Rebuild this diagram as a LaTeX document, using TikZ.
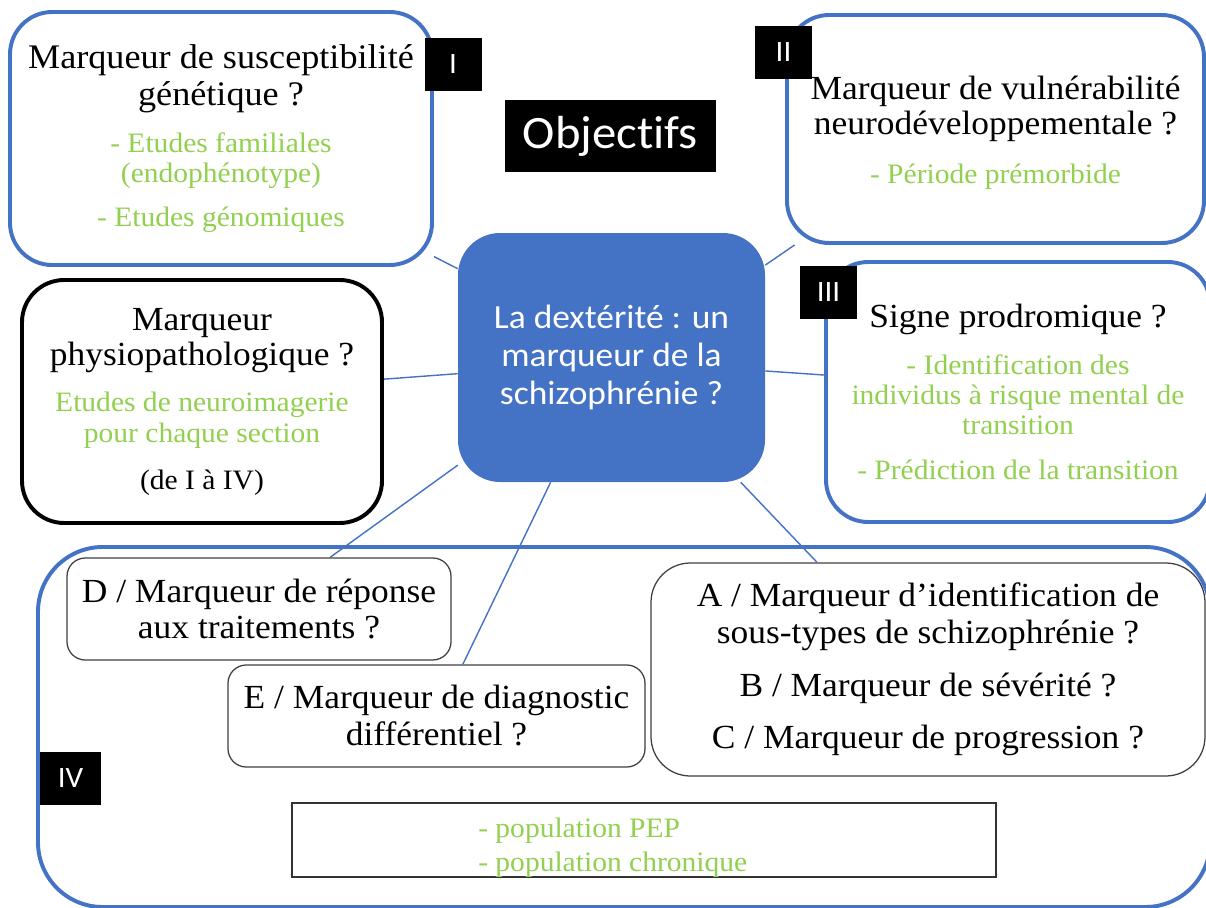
\documentclass[tikz,border=0pt]{standalone}
\usepackage{fontspec}
\setmainfont[FakeStretch=1.05]{Liberation Serif}
\newfontfamily\calibfont[FakeStretch=1.05, Ligatures=NoCommon]{Carlito}
\definecolor{boxblue}{HTML}{4472C4}
\definecolor{notegreen}{HTML}{92D050}
\def\px{0.025cm}
\def\blk{\fontsize{24}{25}\selectfont}
\def\grn{\color{notegreen}\fontsize{20}{22}\selectfont}

\tikzset{
	bluebox/.style={draw=boxblue, line width=2.8pt, rounded corners=30pt, fill=white, align=center, inner sep=0pt, font=\blk},
	blackbox/.style={draw=black, line width=2.8pt, rounded corners=30pt, fill=white, align=center, inner sep=0pt, font=\blk},
	answerbox/.style={draw=black!75, line width=0.9pt, rounded corners=13pt, fill=white, align=center, inner sep=0pt, font=\fontsize{24}{26.3}\selectfont},
	mainbox/.style={fill=boxblue, rounded corners=30pt, text=white, align=center, inner sep=0pt, font=\calibfont\fontsize{24}{26.7}\selectfont},
	numbadge/.style={fill=black, text=white, inner sep=0pt, minimum width=57*\px, minimum height=53*\px, font=\calibfont\fontsize{21}{21}\selectfont},
	link/.style={draw=boxblue, line width=1pt}
}

\begin{document}
\begin{tikzpicture}[x=0.025cm, y=-0.025cm]
			%%%%% START %%%%%
			\useasboundingbox (0,0) rectangle (1206,908);
			
			% frame of section IV
			\node[bluebox, fill=none, rounded corners=46pt, minimum width=1172*\px, minimum height=360*\px] (sec4) at (624,727) {};
			
			% central question
			\node[mainbox, minimum width=307*\px, minimum height=249*\px] (ctr) at (611.5,357.5) {La dextérité : un\\marqueur de la\\schizophrénie ?};
			
			\node[fill=black, text=white, inner sep=0pt, minimum width=211*\px, minimum height=72*\px, font=\calibfont\fontsize{33}{36}\selectfont] (obj) at (610.5,136) {Objectifs};
			
			\node[bluebox, font=\fontsize{24.5}{26.3}\selectfont, minimum width=422*\px, minimum height=253*\px] (gen) at (221,138.5) {Marqueur de susceptibilité\\génétique ?\\[7pt]\grn - Etudes familiales\\[-5pt]\grn (endophénotype)\\[5pt]\grn - Etudes génomiques};
			
			\node[bluebox, minimum width=417*\px, minimum height=228*\px] (neuro) at (995.5,129) {Marqueur de vulnérabilité\\neurodéveloppementale ?\\[10pt]\grn - Période prémorbide\\[-26pt]};
			
			\node[blackbox, minimum width=360*\px, minimum height=243*\px] (physio) at (202,401.5) {Marqueur\\physiopathologique ?\\[8pt]\grn Etudes de neuroimagerie\\[-3pt]\grn pour chaque section\\[8pt]\fontsize{20}{22}\selectfont (de I à IV)};
			
			\node[bluebox, minimum width=384*\px, minimum height=260*\px] (pro) at (1018,392) {Signe prodromique ?\\[8pt]\grn - Identification des\\[-3.5pt]\grn individus à risque mental de\\[-3.5pt]\grn transition\\[7pt]\grn - Prédiction de la transition};
			
			% section IV
			\node[answerbox, minimum width=384*\px, minimum height=102*\px] (ansD) at (259,609) {D / Marqueur de réponse\\aux traitements ?};
			\node[answerbox, minimum width=417*\px, minimum height=102*\px] (ansE) at (436.5,716) {E / Marqueur de diagnostic\\différentiel ?};
			\node[answerbox, rounded corners=28pt, minimum width=554*\px, minimum height=213*\px] (ansABC) at (928,669.5) {A / Marqueur d’identification de\\sous-types de schizophrénie ?\\[11pt]B / Marqueur de sévérité ?\\[11pt]C / Marqueur de progression ?};
			
			\node[draw=black!80, line width=1pt, fill=white, minimum width=704*\px, minimum height=74*\px] (pop) at (644,840) {};
			\node[anchor=west, align=left, inner sep=0pt, font=\grn] (popt) at (478,848) {- population PEP\\[2pt]- population chronique};
			
			\draw[link] (ctr.150) -- (gen.-29);
			\draw[link] (ctr.31) -- (neuro.-150);
			\draw[link] (ctr.186) -- (physio.7);
			\draw[link] (ctr.-5) -- (pro.175);
			\draw[link] (ctr.215) -- (ansD.36);
			\draw[link] (ctr.244) -- (ansE.63);
			\draw[link] (ctr.-44.5) -- (ansABC.136);
			
			\node[numbadge] (numI) at (453,64) {I};
			\node[numbadge] (numII) at (783.5,52.5) {II};
			\node[numbadge] (numIII) at (828.5,292.5) {III};
			\node[numbadge, minimum width=61*\px] (numIV) at (70.5,778.5) {IV};
			
			%%%%% END %%%%%
\end{tikzpicture}
\end{document}
